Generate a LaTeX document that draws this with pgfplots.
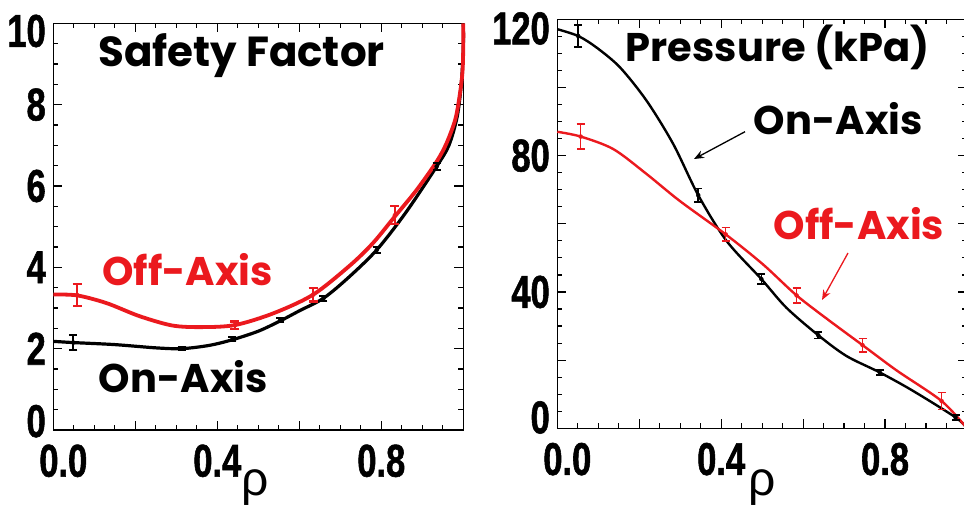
\documentclass[border=0pt]{standalone}
\usepackage{pgfplots}
\pgfplotsset{compat=1.18}
\usepackage{fontspec}
\setmainfont{Liberation Sans}
\newfontfamily\tickfont[FakeStretch=0.75, FakeBold=1.2]{Liberation Sans Bold}
\newfontfamily\gothic{Poppins}
\usetikzlibrary{arrows.meta}
\definecolor{myred}{RGB}{235,25,30}
\pgfplotsset{
  myaxis/.style={
    scale only axis, anchor=south west,
    axis line style={line width=1.5pt},
    every tick/.style={line width=1.2pt, black},
    major tick length=9pt, minor tick length=5pt,
    minor x tick num=3, minor y tick num=3,
    xmin=0, xmax=1,
    xtick={0,0.2,0.4,0.6,0.8,1},
    xticklabels={\hspace*{20pt}0.0,,0.4,,0.8,},
    ticklabel style={font=\tickfont\fontsize{46}{46}\selectfont},
    xticklabel style={yshift=-11pt},
    yticklabel style={xshift=-4pt},
    clip=false,
  }
}
\begin{document}
\begin{tikzpicture}
% ---------------- Left: Safety factor
\begin{axis}[myaxis, at={(53.3pt,-430pt)}, width=410pt, height=406.7pt,
  ymin=0, ymax=10, ytick={0,2,4,6,8,10},
  yticklabels={\raisebox{-7pt}[0pt][0pt]{0},2,4,6,8,\raisebox{-23.5pt}[0pt][0pt]{10}}]
\addplot[black, line width=3.2pt, smooth, tension=0.5] coordinates {
(0,2.18) (0.049,2.15) (0.15,2.10) (0.25,2.02) (0.313,2.0) (0.38,2.08) (0.437,2.22)
(0.5,2.43) (0.553,2.68) (0.6,2.93) (0.659,3.24) (0.72,3.75) (0.789,4.43) (0.86,5.35)
(0.935,6.48) (0.965,7.0) (0.985,7.7) (0.995,8.5) (1.0,9.4) (1.0,10)};
\addplot[myred, line width=3.8pt, smooth, tension=0.5] coordinates {
(0,3.33) (0.058,3.31) (0.13,3.12) (0.21,2.80) (0.29,2.57) (0.36,2.53) (0.443,2.58)
(0.537,2.87) (0.634,3.33) (0.724,4.05) (0.78,4.6) (0.833,5.25) (0.886,5.9) (0.935,6.6)
(0.959,7.05) (0.98,7.62) (0.99,8.15) (0.998,8.8) (1.0,9.5) (1.0,10)};
\addplot[black, only marks, mark=none, error bars/.cd, y dir=both, y explicit,
  error bar style={line width=1.8pt}, error mark options={rotate=90, line width=1.8pt, mark size=4pt}]
coordinates {(0.049,2.15) +- (0,0.18) (0.313,2.0) +- (0,0.04) (0.437,2.23) +- (0,0.05)
(0.553,2.70) +- (0,0.05) (0.659,3.24) +- (0,0.06) (0.789,4.43) +- (0,0.07) (0.935,6.48) +- (0,0.08)};
\addplot[myred, only marks, mark=none, error bars/.cd, y dir=both, y explicit,
  error bar style={line width=2.2pt}, error mark options={rotate=90, line width=2.2pt, mark size=4.5pt}]
coordinates {(0.058,3.32) +- (0,0.27) (0.443,2.58) +- (0,0.09) (0.634,3.33) +- (0,0.17) (0.833,5.28) +- (0,0.22)};
\end{axis}
% ---------------- Right: Pressure
\begin{axis}[myaxis, at={(557.3pt,-428.3pt)}, width=409.7pt, height=409pt,
  ymin=0, ymax=120, ytick={0,20,40,60,80,100,120},
  yticklabels={\raisebox{-5pt}[0pt][0pt]{0},,40,,80,,\raisebox{-25pt}[0pt][0pt]{120}}]
\addplot[black, line width=2.4pt, smooth, tension=0.5] coordinates {
(0,117.1) (0.051,115.1) (0.096,111.7) (0.153,105.9) (0.218,96.1) (0.283,83.4) (0.344,68.4)
(0.413,55.0) (0.498,43.8) (0.559,35.4) (0.637,27.3) (0.706,21.2) (0.787,16.4) (0.868,11.0)
(0.972,3.2) (1.0,0)};
\addplot[myred, line width=2.4pt, smooth, tension=0.5] coordinates {
(0,87.0) (0.057,85.6) (0.137,81.9) (0.218,74.6) (0.299,66.7) (0.411,56.9) (0.502,48.1)
(0.584,39.0) (0.665,31.5) (0.745,24.4) (0.828,17.0) (0.938,8.0) (1.0,0)};
\addplot[black, only marks, mark=none, error bars/.cd, y dir=both, y explicit,
  error bar style={line width=1.6pt}, error mark options={rotate=90, line width=1.6pt, mark size=4pt}]
coordinates {(0.051,115.1) +- (0,3.3) (0.344,68.4) +- (0,2) (0.498,43.8) +- (0,1.5)
(0.637,27.3) +- (0,1) (0.787,16.4) +- (0,0.7) (0.972,3.2) +- (0,0.7)};
\addplot[myred, only marks, mark=none, error bars/.cd, y dir=both, y explicit,
  error bar style={line width=1.6pt}, error mark options={rotate=90, line width=1.6pt, mark size=4pt}]
coordinates {(0.057,85.6) +- (0,3.7) (0.411,56.9) +- (0,2) (0.584,39.0) +- (0,2.2)
(0.745,24.4) +- (0,2) (0.938,8.0) +- (0,2.5)};
\end{axis}
% ---------------- annotations
\begin{scope}[every node/.style={font=\gothic\bfseries\fontsize{40}{40}\selectfont, anchor=base, inner sep=0pt}]
\node[font=\gothic\bfseries\fontsize{42}{42}\selectfont] at (241.5pt,-66.7pt) {Safety Factor};
\node[text=myred] at (187.5pt,-285.5pt) {Off-Axis};
\node at (183.3pt,-392.5pt) {On-Axis};
\node at (777.5pt,-61.5pt) {Pressure (kPa)};
\node at (838.3pt,-134.5pt) {On-Axis};
\node[text=myred] at (859pt,-239.5pt) {Off-Axis};
\end{scope}
\draw[black, line width=1.3pt, -{Stealth[length=10pt, width=8pt]}] (745pt,-131.7pt) -- (694pt,-159pt);
\draw[myred, line width=1.3pt, -{Stealth[length=10pt, width=8pt]}] (848pt,-253pt) -- (822pt,-300pt);
\node[font=\fontsize{48}{48}\selectfont, anchor=base, inner sep=0pt] at (255pt,-495pt) {ρ};
\node[font=\fontsize{48}{48}\selectfont, anchor=base, inner sep=0pt] at (762pt,-495pt) {ρ};
\pgfresetboundingbox
\path[use as bounding box] (0pt,0pt) rectangle (964pt,-507pt);
\end{tikzpicture}
\end{document}
